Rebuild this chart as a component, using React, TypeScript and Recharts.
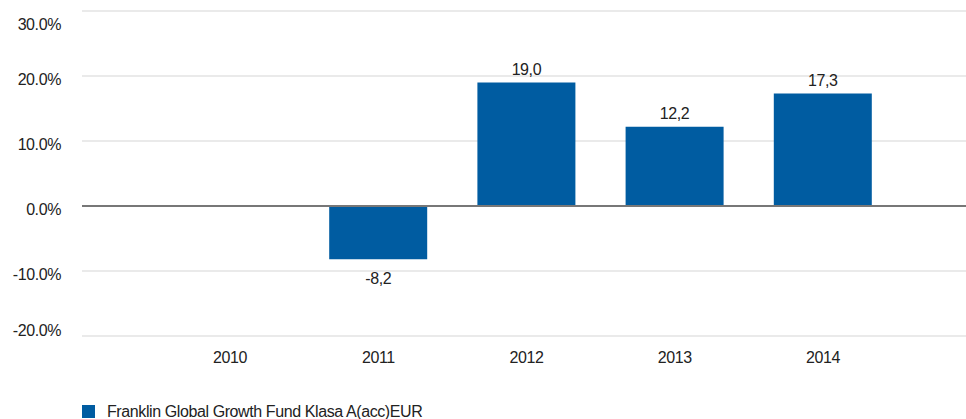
import { BarChart, Bar, XAxis, YAxis, CartesianGrid, ReferenceLine, LabelList } from 'recharts';

const years = ['2010', '2011', '2012', '2013', '2014'];
const returns: (number | null)[] = [null, -8.2, 19.0, 12.2, 17.3];
const yTicks = [-20, -10, 0, 10, 20, 30];
const seriesName = 'Franklin Global Growth Fund Klasa A(acc)EUR';

const data = years.map((year, i) => ({ year, value: returns[i] }));

const FONT = '"Liberation Sans", Arial, sans-serif';
const BLUE = '#005ca1';
const TEXT = { fontSize: 16, fontFamily: FONT, fill: '#222', letterSpacing: -0.4 };

// the source draws the outer tick labels pulled inside the plot
function yLabelOffset(v: number) {
  if (v === yTicks[yTicks.length - 1]) return 13;
  if (v === yTicks[0]) return -5.5;
  return 3.5;
}

function YTick({ x, y, payload }: any) {
  return (
    <text x={x - 21} y={y + yLabelOffset(payload.value)} textAnchor="end" dominantBaseline="central" {...TEXT}>
      {`${payload.value.toFixed(1)}%`}
    </text>
  );
}

function XTick({ x, y, payload }: any) {
  return (
    <text x={x} y={y + 21} textAnchor="middle" dominantBaseline="central" {...TEXT}>
      {payload.value}
    </text>
  );
}

function ValueLabel({ x, y, width, height, value }: any) {
  if (value === null || value === undefined) return null;
  const top = Math.min(y, y + height);
  const bottom = Math.max(y, y + height);
  const ty = value < 0 ? bottom + 19 : top - 13;
  return (
    <text x={x + width / 2} y={ty} textAnchor="middle" dominantBaseline="central" {...TEXT}>
      {value.toFixed(1).replace('.', ',')}
    </text>
  );
}

export default function App() {
  return (
    <div style={{ position: 'absolute', left: 0, top: 0, width: 966, height: 419, background: '#fff' }}>
      <BarChart width={966} height={419} data={data} margin={{ top: 11, right: 0, bottom: 53, left: 0 }}>
        <CartesianGrid vertical={false} stroke="#e3e3e3" strokeWidth={1.5} />
        <XAxis
          dataKey="year"
          axisLine={false}
          tickLine={false}
          tickSize={0}
          tickMargin={0}
          height={30}
          padding={{ left: 74, right: 69 }}
          tick={<XTick />}
        />
        <YAxis
          domain={[-20, 30]}
          ticks={yTicks}
          width={82}
          axisLine={false}
          tickLine={false}
          tickSize={0}
          tickMargin={0}
          tick={<YTick />}
        />
        <ReferenceLine y={0} stroke="#777" strokeWidth={2} />
        <Bar dataKey="value" fill={BLUE} barSize={98} isAnimationActive={false}>
          <LabelList dataKey="value" content={<ValueLabel />} />
        </Bar>
      </BarChart>
      <div
        style={{
          position: 'absolute',
          left: 82,
          top: 404,
          display: 'flex',
          alignItems: 'center',
          fontFamily: FONT,
          fontSize: 16,
          letterSpacing: -0.4,
          color: '#222',
          whiteSpace: 'nowrap',
        }}
      >
        <span style={{ display: 'inline-block', width: 13, height: 13, background: BLUE, marginRight: 12 }} />
        <span style={{ lineHeight: '15px' }}>{seriesName}</span>
      </div>
    </div>
  );
}
